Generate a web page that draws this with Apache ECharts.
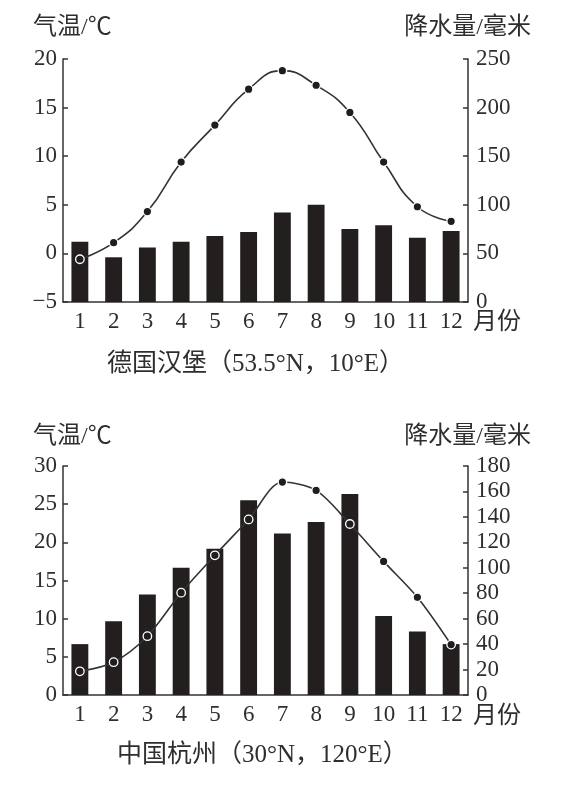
<!DOCTYPE html>
<html>
<head>
<meta charset="utf-8">
<script src="https://cdn.jsdelivr.net/npm/echarts@6/dist/echarts.min.js"></script>
<style>
  html, body { margin: 0; padding: 0; background: #fff; }
  #chart { width: 568px; height: 798px; }
</style>
</head>
<body>
<div id="chart"></div>
<script>
// ---- data ----
const months = ['1','2','3','4','5','6','7','8','9','10','11','12'];
// Hamburg, Germany
const hamburgTemp = [-0.6, 1.1, 4.3, 9.4, 13.2, 16.9, 18.8, 17.3, 14.5, 9.4, 4.8, 3.3];
const hamburgRain = [62, 46, 56, 62, 68, 72, 92, 100, 75, 79, 66, 73];
// Hangzhou, China
const hangzhouTemp = [3.1, 4.3, 7.7, 13.4, 18.3, 23.0, 27.9, 26.8, 22.4, 17.5, 12.8, 6.6];
const hangzhouRain = [40, 58, 79, 100, 115, 153, 127, 136, 158, 62, 50, 40];
// axis ranges
const tempAxis1 = { min: -5, max: 20, interval: 5 };
const rainAxis1 = { min: 0, max: 250, interval: 50 };
const tempAxis2 = { min: 0, max: 30, interval: 5 };
const rainAxis2 = { min: 0, max: 180, interval: 20 };
// texts
const tempTitle = '气温/℃';
const rainTitle = '降水量/毫米';
const monthTitle = '月份';
const caption1 = '德国汉堡（53.5°N，10°E）';
const caption2 = '中国杭州（30°N，120°E）';

const INK = '#231f1e';
const TXT = '#2e2e2e';
const LATIN = '"Liberation Serif", "Noto Sans CJK SC", serif';
const FONT_L = '24px ' + LATIN;
const FONT_C = '25px ' + LATIN;

function axisLine() { return { show: true, onZero: false, lineStyle: { color: '#333', width: 1.5 } }; }
function yAxisCfg(rng, gridIdx, pos) {
  return {
    type: 'value', gridIndex: gridIdx, position: pos,
    min: rng.min, max: rng.max, interval: rng.interval,
    axisLine: axisLine(),
    axisTick: { show: true, inside: true, length: 5, lineStyle: { color: '#333', width: 1.5 } },
    splitLine: { show: false },
    axisLabel: {
      color: TXT, fontFamily: LATIN, fontSize: 23,
      margin: pos === 'left' ? 6 : 8,
      formatter: v => String(v).replace('-', '\u2212')
    }
  };
}
function xAxisCfg(gridIdx) {
  return {
    type: 'category', gridIndex: gridIdx, data: months, boundaryGap: true,
    axisLine: axisLine(), axisTick: { show: false },
    axisLabel: { color: TXT, fontFamily: LATIN, fontSize: 23, margin: 8, interval: 0 }
  };
}
function lineSeries(data, xi, yi, smooth) {
  return {
    type: 'line', data: data, xAxisIndex: xi, yAxisIndex: yi, smooth: smooth,
    symbol: 'circle', symbolSize: 8.5, z: 5,
    itemStyle: { color: '#1e1e1e', borderColor: '#ffffff', borderWidth: 1.3 },
    lineStyle: { color: '#333', width: 1.6 }
  };
}
function barSeries(data, xi, yi) {
  return {
    type: 'bar', data: data, xAxisIndex: xi, yAxisIndex: yi, barWidth: '50%', z: 2,
    itemStyle: { color: INK }
  };
}
function txt(s, x, y, align, font) {
  return { type: 'text', x: x, y: y, style: { text: s, font: font || FONT_L, fill: TXT, align: align || 'left', verticalAlign: 'middle' } };
}

const chart = echarts.init(document.getElementById('chart'), null, { renderer: 'canvas' });
chart.setOption({
  animation: false,
  backgroundColor: '#fff',
  grid: [
    { left: 63, right: 100, top: 59, height: 243 },
    { left: 63, right: 100, top: 466, height: 229 }
  ],
  xAxis: [xAxisCfg(0), xAxisCfg(1)],
  yAxis: [
    yAxisCfg(tempAxis1, 0, 'left'), yAxisCfg(rainAxis1, 0, 'right'),
    yAxisCfg(tempAxis2, 1, 'left'), yAxisCfg(rainAxis2, 1, 'right')
  ],
  series: [
    barSeries(hamburgRain, 0, 1),
    lineSeries(hamburgTemp, 0, 0, 0.5),
    barSeries(hangzhouRain, 1, 3),
    lineSeries(hangzhouTemp, 1, 2, 0.3)
  ],
  graphic: [
    txt(tempTitle, 33, 28),
    txt(rainTitle, 531, 28, 'right'),
    txt(monthTitle, 473, 323),
    txt(caption1, 107, 364, 'left', FONT_C),
    txt(tempTitle, 33, 437),
    txt(rainTitle, 531, 437, 'right'),
    txt(monthTitle, 473, 717),
    txt(caption2, 117, 755, 'left', FONT_C)
  ]
});
</script>
</body>
</html>
